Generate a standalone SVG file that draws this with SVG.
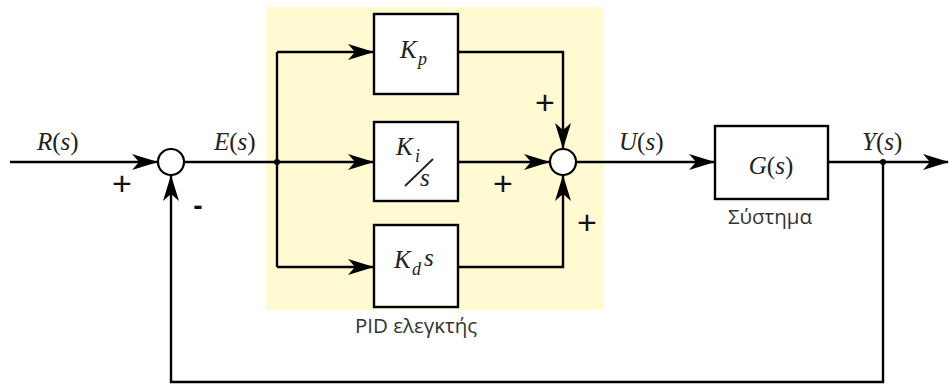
<svg xmlns="http://www.w3.org/2000/svg" width="949" height="385" viewBox="0 0 949 385">
<defs>
<marker id="arr" viewBox="0 0 26 16" refX="25" refY="8" markerWidth="26" markerHeight="16" markerUnits="userSpaceOnUse" orient="auto">
<path d="M0,0 L26,8 L0,16 L7,8 z" fill="#000"/>
</marker>
<style>
.ln{fill:none;stroke:#000;stroke-width:2.4}
.box{fill:#fff;stroke:#000;stroke-width:2.4}
.sum{fill:#fff;stroke:#000;stroke-width:2.2}
.m{font-family:"Liberation Serif","DejaVu Serif",serif;font-size:25px;fill:#222}
.i{font-style:italic}
.sub{font-family:"Liberation Serif","DejaVu Serif",serif;font-style:italic;font-size:18px;fill:#222}
.sg{font-family:"Liberation Sans",Arial,sans-serif;font-size:34px;fill:#111;text-anchor:middle}
.mn{font-family:"Liberation Sans",Arial,sans-serif;font-size:28px;font-weight:bold;fill:#111;text-anchor:middle}
.gr{font-family:"Open Sans","Noto Sans",sans-serif;font-size:20.5px;fill:#333;text-anchor:middle}
</style>
</defs>
<rect id="pid-bg" x="266" y="7" width="337" height="303" fill="#fffad2"/>
<g id="connectors">
<path class="ln" d="M10,162 H157" marker-end="url(#arr)"/>
<path class="ln" d="M184,162 H277"/>
<path class="ln" d="M277,52 V267"/>
<path class="ln" d="M277,52 H373" marker-end="url(#arr)"/>
<path class="ln" d="M277,162 H373" marker-end="url(#arr)"/>
<path class="ln" d="M277,267 H373" marker-end="url(#arr)"/>
<path class="ln" d="M458,52 H563 V148" marker-end="url(#arr)"/>
<path class="ln" d="M458,162 H549" marker-end="url(#arr)"/>
<path class="ln" d="M458,267 H563 V176" marker-end="url(#arr)"/>
<path class="ln" d="M576,162 H714" marker-end="url(#arr)"/>
<path class="ln" d="M828,162 H948" marker-end="url(#arr)"/>
<path class="ln" d="M883,162 V382 H171 V176" marker-end="url(#arr)"/>
<circle cx="277" cy="162" r="3" fill="#000"/>
<circle cx="883" cy="162" r="3" fill="#000"/>
</g>
<g id="sum1">
<circle class="sum" cx="171" cy="162" r="13"/>
<text class="sg" x="122" y="195">+</text>
<text class="mn" x="198" y="215">-</text>
</g>
<g id="sum2">
<circle class="sum" cx="563" cy="162" r="13"/>
<text class="sg" x="545" y="114">+</text>
<text class="sg" x="503" y="195">+</text>
<text class="sg" x="587" y="234">+</text>
</g>
<g id="Kp">
<rect class="box" x="374" y="14" width="84" height="80"/>
<text class="m i" x="400" y="58">K</text>
<text class="sub" x="418" y="65">p</text>
</g>
<g id="Ki">
<rect class="box" x="374" y="122" width="84" height="79"/>
<text class="m i" x="396" y="155">K</text>
<text class="sub" x="415" y="162">i</text>
<line x1="405" y1="186" x2="433" y2="159" stroke="#222" stroke-width="1.8"/>
<text class="m i" x="420" y="186">s</text>
</g>
<g id="Kd">
<rect class="box" x="374" y="225" width="84" height="82"/>
<text class="m i" x="394" y="268">K</text>
<text class="sub" x="412" y="275">d</text>
<text class="m i" x="424" y="266">s</text>
</g>
<text class="gr" x="416" y="333">PID ελεγκτής</text>
<g id="G">
<rect class="box" x="715" y="126" width="113" height="73"/>
<text class="m" x="771" y="174" text-anchor="middle"><tspan class="i">G</tspan>(<tspan class="i">s</tspan>)</text>
<text class="gr" x="770" y="224">Σύστημα</text>
</g>
<text class="m" x="37" y="150"><tspan class="i">R</tspan>(<tspan class="i">s</tspan>)</text>
<text class="m" x="214" y="150"><tspan class="i">E</tspan>(<tspan class="i">s</tspan>)</text>
<text class="m" x="619" y="150"><tspan class="i">U</tspan>(<tspan class="i">s</tspan>)</text>
<text class="m" x="862" y="150"><tspan class="i">Y</tspan>(<tspan class="i">s</tspan>)</text>
</svg>
